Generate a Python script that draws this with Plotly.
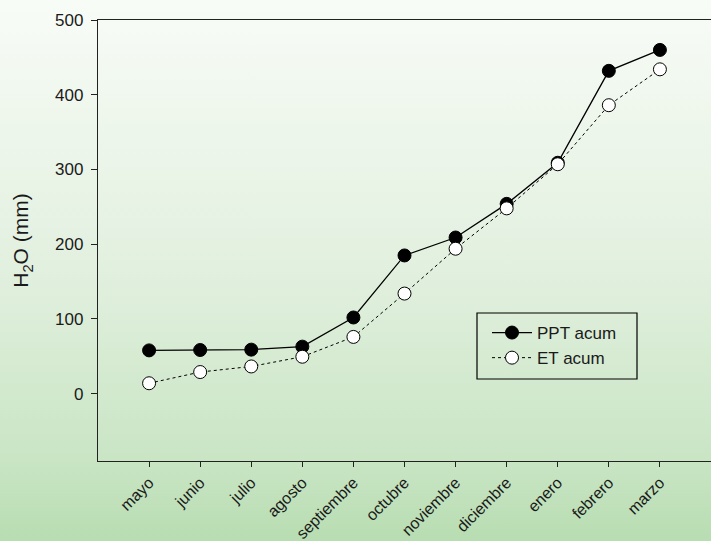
import base64
import plotly.graph_objects as go

# Monthly cumulative water balance (mm)
months = ["mayo", "junio", "julio", "agosto", "septiembre", "octubre",
          "noviembre", "diciembre", "enero", "febrero", "marzo"]
ppt_acum = [58, 58.5, 59, 63, 102, 185, 209, 254, 309, 432, 460]
et_acum = [14, 29, 36.5, 49.5, 76, 134, 194, 248, 307, 386, 434]
y_ticks = [0, 100, 200, 300, 400, 500]

W, H = 711, 541
ML, MR, MT, MB = 98, 0, 20, 80
PW, PH = W - ML - MR, H - MT - MB

FONT = "Liberation Sans, Arial, sans-serif"
TXT = "#1a1a1a"

# vertical green gradient used as page background
svg = f"""<svg xmlns='http://www.w3.org/2000/svg' width='{W}' height='{H}' preserveAspectRatio='none'>
<defs><linearGradient id='g' x1='0' y1='0' x2='0' y2='1'>
<stop offset='0' stop-color='#f8fcf7'/>
<stop offset='0.5' stop-color='#e2f0df'/>
<stop offset='0.85' stop-color='#c9e5c4'/>
<stop offset='1' stop-color='#b8ddb2'/>
</linearGradient></defs>
<rect width='{W}' height='{H}' fill='url(#g)'/></svg>"""
bg_uri = "data:image/svg+xml;base64," + base64.b64encode(svg.encode()).decode()

fig = go.Figure()
fig.add_trace(go.Scatter(
    x=list(range(len(months))), y=ppt_acum, name="PPT acum",
    mode="lines+markers",
    line=dict(color="black", width=1.3),
    marker=dict(symbol="circle", size=13, color="black",
                line=dict(color="black", width=1)),
))
fig.add_trace(go.Scatter(
    x=list(range(len(months))), y=et_acum, name="ET acum",
    mode="lines+markers",
    line=dict(color="black", width=1, dash="dot"),
    marker=dict(symbol="circle", size=13, color="white",
                line=dict(color="black", width=1)),
))

# legend frame
fig.add_shape(type="rect", xref="paper", yref="paper",
              x0=(477 - ML) / PW, x1=(637 - ML) / PW,
              y0=(H - MB - 379) / PH, y1=(H - MB - 313) / PH,
              line=dict(color="black", width=1.2), fillcolor="rgba(0,0,0,0)")

fig.add_layout_image(dict(
    source=bg_uri, xref="paper", yref="paper",
    x=-ML / PW, y=1 + MT / PH, sizex=W / PW, sizey=H / PH,
    xanchor="left", yanchor="top", sizing="stretch", layer="below",
))

fig.update_layout(
    width=W, height=H,
    margin=dict(l=ML, r=MR, t=MT, b=MB, pad=0, autoexpand=False),
    paper_bgcolor="white",
    plot_bgcolor="rgba(0,0,0,0)",
    font=dict(family=FONT, color=TXT, size=16),
    showlegend=True,
    legend=dict(
        x=(487 - ML) / PW, y=(H - MB - 315) / PH,
        xanchor="left", yanchor="top",
        bgcolor="rgba(0,0,0,0)", borderwidth=0,
        font=dict(size=17, family=FONT, color=TXT),
        itemwidth=40, tracegroupgap=0,
    ),
    xaxis=dict(
        range=[-1, 11], tickmode="array",
        tickvals=list(range(len(months))), ticktext=months,
        tickangle=-45, tickfont=dict(size=16, family=FONT, color=TXT),
        ticks="outside", ticklen=5, tickwidth=1.2, tickcolor="#222",
        showline=True, linecolor="#222", linewidth=1.3, mirror=True,
        showgrid=False, zeroline=False, automargin=False,
    ),
    yaxis=dict(
        range=[-90, 500], tickmode="array", tickvals=y_ticks,
        tickfont=dict(size=17, family=FONT, color=TXT),
        ticks="outside", ticklen=6, tickwidth=1.2, tickcolor="#222",
        ticklabelstandoff=4,
        showline=True, linecolor="#222", linewidth=1.3, mirror=False,
        showgrid=False, zeroline=False, automargin=False,
        title=dict(text="H<sub>2</sub>O (mm)",
                   font=dict(size=21, family=FONT, color=TXT),
                   standoff=20),
    ),
)

fig.write_html("out.html")
